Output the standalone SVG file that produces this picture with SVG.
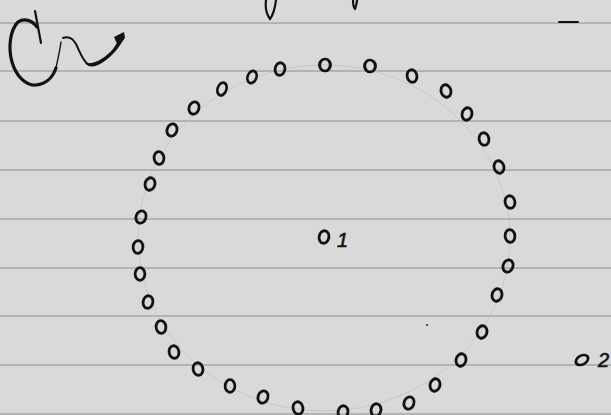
<svg xmlns="http://www.w3.org/2000/svg" width="611" height="415" viewBox="0 0 611 415">
<style>
.rule{stroke:#8e8e8e;stroke-width:1.1;fill:none}
.o{fill:none;stroke:#121212;stroke-width:2.8}
.ink{fill:none;stroke:#121212;stroke-linecap:round;stroke-linejoin:round}
.pencil{fill:none;stroke:#bdbdbd;stroke-width:0.9;opacity:0.7}
.num{font-family:"Liberation Sans",Arial,sans-serif;font-style:italic;fill:#121212;stroke:#121212;stroke-width:0.6;font-size:20px}
</style>
<defs>
<ellipse id="ov" cx="0" cy="0" rx="4.9" ry="6.3"/>
</defs>
<rect width="611" height="415" fill="#d9d9d9"/>
<g id="rules">
<line class="rule" x1="0" y1="23" x2="611" y2="23"/>
<line class="rule" x1="0" y1="71" x2="611" y2="71"/>
<line class="rule" x1="0" y1="121" x2="611" y2="121"/>
<line class="rule" x1="0" y1="170" x2="611" y2="170"/>
<line class="rule" x1="0" y1="219" x2="611" y2="219"/>
<line class="rule" x1="0" y1="268" x2="611" y2="268"/>
<line class="rule" x1="0" y1="316" x2="611" y2="316"/>
<line class="rule" x1="0" y1="365" x2="611" y2="365"/>
<line class="rule" x1="0" y1="414" x2="611" y2="414"/>
</g>
<ellipse class="pencil" cx="324" cy="238" rx="186" ry="173"/>
<g id="scribble">
<path class="ink" stroke-width="2.2" d="M35,11 L41,43"/>
<path class="ink" stroke-width="3.2" d="M37,27 C32,20 24,18 18,22 C10,30 8,48 12,62 C16,76 26,86 36,85 C46,84 53,77 56,68"/>
<path class="ink" stroke-width="1.4" d="M56,68 C58,58 60,50 61,42"/>
<path class="ink" stroke-width="2" d="M63,38 C68,36 72,37 76,44 C80,52 83,62 89,65"/>
<path fill="#121212" d="M85,63 C95,65 106,57 113,49 C117,43 120,38 124,33 L124,39 C117,51 108,60 100,64 C95,67 89,68 85,63 Z"/>
<path fill="#121212" d="M114,37 L124,32 L125,38 L118,46 Z"/>
</g>
<g id="topmarks">
<path class="ink" stroke-width="2.2" d="M266,0 C265,8 267,15 270,19 C273,15 275,8 276,0"/>
<path class="ink" stroke-width="2.2" d="M353,0 C353,4 354,8 355,9 C356,6 357,3 357,0"/>
<path class="ink" stroke-width="2" d="M559,22 L578,22"/>
</g>
<g id="ring">
<use href="#ov" class="o" transform="translate(280,69) rotate(10)"/>
<use href="#ov" class="o" transform="translate(325,65) rotate(5) scale(1.1,0.95)"/>
<use href="#ov" class="o" transform="translate(370,66) rotate(-5) scale(1.1,0.95)"/>
<use href="#ov" class="o" transform="translate(412,76) rotate(-10)"/>
<use href="#ov" class="o" transform="translate(446,91) rotate(-15)"/>
<use href="#ov" class="o" transform="translate(467,114) rotate(15)"/>
<use href="#ov" class="o" transform="translate(484,139) rotate(-10)"/>
<use href="#ov" class="o" transform="translate(499,167) rotate(-15)"/>
<use href="#ov" class="o" transform="translate(510,202) rotate(-10)"/>
<use href="#ov" class="o" transform="translate(510,236) rotate(-5)"/>
<use href="#ov" class="o" transform="translate(508,266) rotate(20)"/>
<use href="#ov" class="o" transform="translate(497,295) rotate(15)"/>
<use href="#ov" class="o" transform="translate(482,332) rotate(15)"/>
<use href="#ov" class="o" transform="translate(461,360) rotate(15)"/>
<use href="#ov" class="o" transform="translate(435,385) rotate(15)"/>
<use href="#ov" class="o" transform="translate(409,403) rotate(20)"/>
<use href="#ov" class="o" transform="translate(376,410) rotate(10)"/>
<use href="#ov" class="o" transform="translate(343,412) rotate(10)"/>
<use href="#ov" class="o" transform="translate(298,408) rotate(-10)"/>
<use href="#ov" class="o" transform="translate(263,397) rotate(20)"/>
<use href="#ov" class="o" transform="translate(230,386) rotate(0)"/>
<use href="#ov" class="o" transform="translate(198,369) rotate(-10)"/>
<use href="#ov" class="o" transform="translate(174,352) rotate(-10)"/>
<use href="#ov" class="o" transform="translate(161,327) rotate(-5)"/>
<use href="#ov" class="o" transform="translate(148,302) rotate(10)"/>
<use href="#ov" class="o" transform="translate(140,274) rotate(0)"/>
<use href="#ov" class="o" transform="translate(138,247) rotate(5)"/>
<use href="#ov" class="o" transform="translate(141,217) rotate(20)"/>
<use href="#ov" class="o" transform="translate(150,184) rotate(15)"/>
<use href="#ov" class="o" transform="translate(159,158) rotate(-5)"/>
<use href="#ov" class="o" transform="translate(172,130) rotate(20)"/>
<use href="#ov" class="o" transform="translate(194,108) rotate(20)"/>
<use href="#ov" class="o" transform="translate(222,89) rotate(20) scale(0.9,1.05)"/>
<use href="#ov" class="o" transform="translate(252,77) rotate(20) scale(0.9,1)"/>
</g>
<g id="center">
<use href="#ov" class="o" transform="translate(324,237) rotate(10)"/>
<text class="num" x="337" y="247">1</text>
</g>
<g id="outside">
<use href="#ov" class="o" transform="translate(582,360) rotate(60) scale(0.9,1.05)"/>
<text class="num" x="598" y="367">2</text>
</g>
<circle cx="427" cy="325" r="1.1" fill="#333"/>
</svg>
